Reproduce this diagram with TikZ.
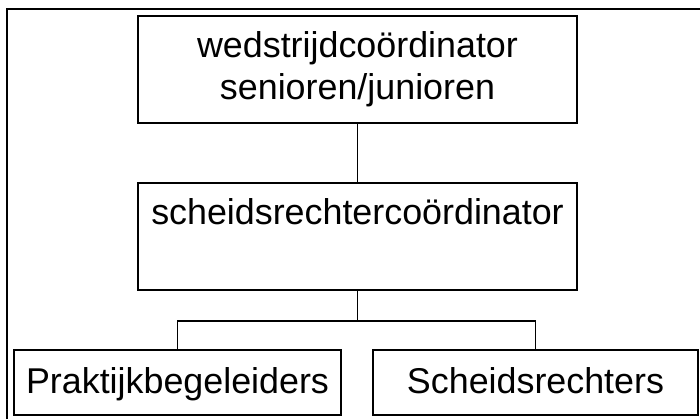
\documentclass[tikz,border=0pt]{standalone}
\usepackage{fontspec}
\setmainfont{Liberation Sans}
\usepackage{tikz}

\begin{document}
\begin{tikzpicture}[line width=1.4pt]
	\useasboundingbox (0,0) rectangle (17.5,-10.475);
	% frame round the chart
	\draw (0.175,-10.475) |- (17.5,-0.225);

	\begin{scope}[every node/.style={draw,rectangle,align=center,font=\fontsize{25.5}{30}\selectfont}]
		\node[minimum width=10.975cm,minimum height=2.675cm] (wc) at (8.9375,-1.7375) {wedstrijdco\"ordinator\\senioren/junioren};
		\node[minimum width=10.975cm,minimum height=2.675cm] (sc) at (8.9375,-5.9125) {scheidsrechterco\"ordinator\\\phantom{j}};
		\node[minimum width=8.175cm,minimum height=1.625cm,text height=18pt,text depth=3pt] (pb) at (4.4375,-9.5625) {Praktijkbegeleiders};
		\node[minimum width=8.125cm,minimum height=1.625cm,text height=18pt,text depth=3pt] (sr) at (13.3875,-9.5625) {Scheidsrechters};
	\end{scope}

	\coordinate (bus) at (8.9375,-8.025);

	\begin{scope}
		\draw (wc.south) -- (sc.north);
		\draw (sc.south) -- (bus);
		\draw (pb.north) |- (bus) -| (sr.north);
	\end{scope}
\end{tikzpicture}
\end{document}
